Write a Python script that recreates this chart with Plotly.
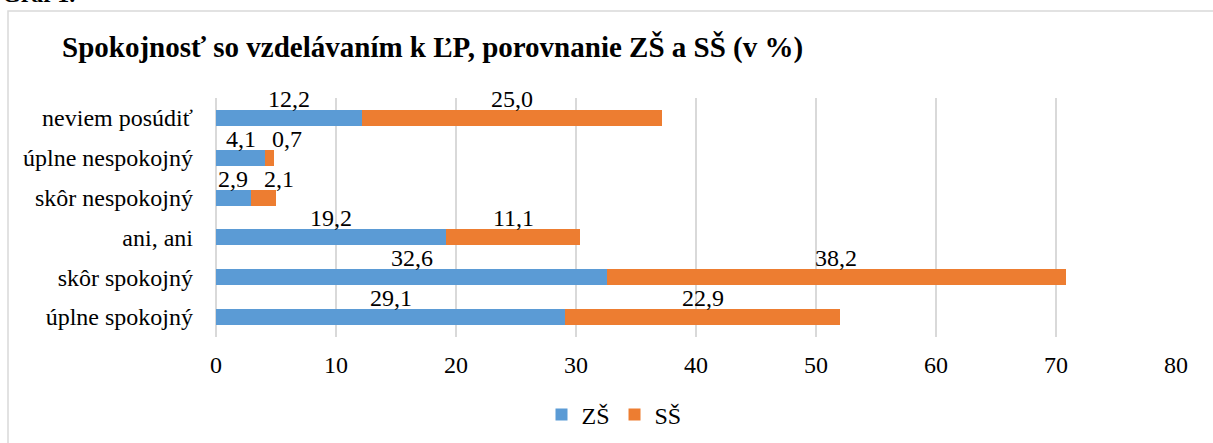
import plotly.graph_objects as go

# Data (bottom to top, as plotly draws horizontal categories)
categories = ["úplne spokojný", "skôr spokojný", "ani, ani",
              "skôr nespokojný", "úplne nespokojný", "neviem posúdiť"]
zs_values = [29.1, 32.6, 19.2, 2.9, 4.1, 12.2]
ss_values = [22.9, 38.2, 11.1, 2.1, 0.7, 25.0]
x_ticks = [0, 10, 20, 30, 40, 50, 60, 70, 80]

title_text = "Spokojnosť so vzdelávaním k ĽP, porovnanie ZŠ a SŠ (v %)"
font_family = "Liberation Serif, Times New Roman, serif"
blue = "#5B9BD5"
orange = "#ED7D31"
grid = "#D9D9D9"

# plot area geometry (px)
PLOT_W = 960
X_MAX = 80
MIN_LABEL_GAP = 46  # px between label centres, like Excel's overlap nudge


def fmt(v):
    return f"{v:.1f}".replace(".", ",")


fig = go.Figure()

fig.add_trace(go.Bar(
    y=categories, x=zs_values, name="ZŠ", orientation="h",
    marker=dict(color=blue, line=dict(width=0)),
    hoverinfo="skip"
))
fig.add_trace(go.Bar(
    y=categories, x=ss_values, name="SŠ", orientation="h",
    marker=dict(color=orange, line=dict(width=0)),
    hoverinfo="skip"
))

# Data labels above the middle of each segment
annotations = []
px_per_unit = PLOT_W / X_MAX
for cat, zs, ss in zip(categories, zs_values, ss_values):
    mid_zs = zs / 2
    mid_ss = zs + ss / 2
    gap = (mid_ss - mid_zs) * px_per_unit
    nudge = max(0, MIN_LABEL_GAP - gap)
    for mid, val, shift in ((mid_zs, zs, 0), (mid_ss, ss, nudge)):
        annotations.append(dict(
            x=mid, y=cat, xref="x", yref="y", text=fmt(val),
            showarrow=False, yshift=19, xshift=shift, yanchor="middle",
            font=dict(size=24, color="black", family=font_family)
        ))

# Caption above the chart frame (cut off in the original)
annotations.append(dict(
    x=(0 - 216) / 960, y=(337 - 9) / 239, xref="paper", yref="paper",
    xanchor="left", yanchor="bottom", text="<b>Graf 1.</b>", showarrow=False,
    font=dict(size=24, color="black", family=font_family)
))

fig.update_layout(
    width=1213, height=443,
    margin=dict(l=216, r=37, t=98, b=106, autoexpand=False),
    barmode="stack", bargap=0.6,
    plot_bgcolor="white", paper_bgcolor="white",
    font=dict(family=font_family, size=24, color="black"),
    title=dict(
        text=f"<b>{title_text}</b>", xref="container", yref="container",
        x=62 / 1213, xanchor="left", y=1 - 47 / 443, yanchor="middle",
        font=dict(size=29, color="black", family=font_family)
    ),
    legend=dict(
        orientation="h", xref="container", yref="container",
        x=614 / 1213, xanchor="center", y=1 - 415 / 443, yanchor="middle",
        font=dict(size=24, family=font_family), traceorder="normal"
    ),
    annotations=annotations,
    shapes=[dict(
        type="rect", xref="paper", yref="paper",
        x0=(8 - 216) / 960, x1=(1240 - 216) / 960,
        y0=-1.0, y1=(337 - 11) / 239,
        line=dict(color=grid, width=1.5), fillcolor="rgba(0,0,0,0)",
        layer="below"
    )],
)

fig.update_xaxes(
    range=[0, X_MAX], autorange=False, tickvals=x_ticks, showgrid=True,
    gridcolor=grid, gridwidth=1.5, zeroline=True, zerolinecolor=grid,
    zerolinewidth=1.5, showline=False, ticks="", ticklabelstandoff=11,
    tickfont=dict(size=24, family=font_family)
)
fig.update_yaxes(
    categoryorder="array", categoryarray=categories,
    range=[-0.5, len(categories) - 0.5], autorange=False, showgrid=False,
    showline=False, ticks="", ticklabelstandoff=22,
    tickfont=dict(size=24, family=font_family)
)

fig.write_html("out.html", config={"displayModeBar": False},
               post_script="document.body.style.margin='0';")
